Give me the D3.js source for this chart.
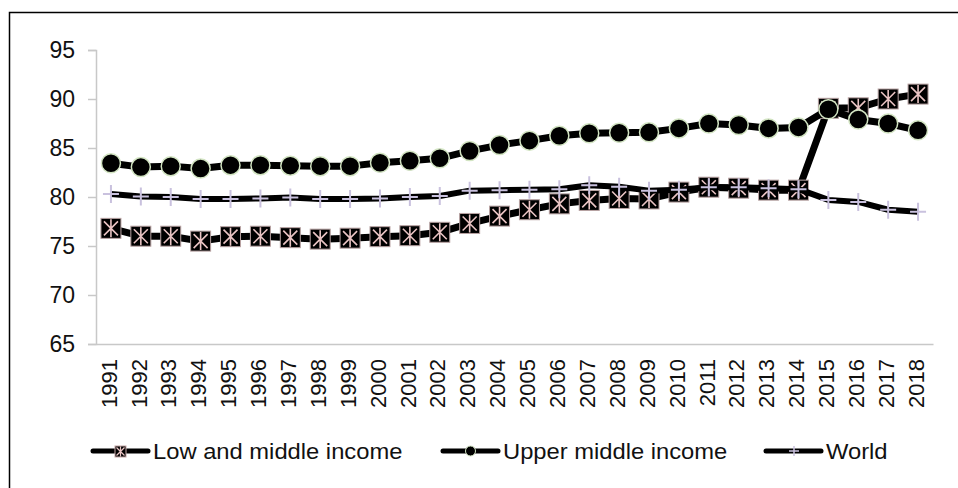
<!DOCTYPE html>
<html>
<head>
<meta charset="utf-8">
<script src="https://cdn.jsdelivr.net/npm/d3@7"></script>
<style>
  body { margin: 0; background: #fff; }
  text { font-family: "Liberation Sans", Arial, sans-serif; fill: #111; }
</style>
</head>
<body>
<div class="chart"></div>
<script>
var years = [1991, 1992, 1993, 1994, 1995, 1996, 1997, 1998, 1999, 2000,
    2001, 2002, 2003, 2004, 2005, 2006, 2007, 2008, 2009, 2010,
    2011, 2012, 2013, 2014, 2015, 2016, 2017, 2018];

var lowMiddle = [76.8, 76.0, 76.0, 75.5, 75.95, 76.0, 75.85, 75.7, 75.8, 75.95,
    76.05, 76.4, 77.3, 78.05, 78.7, 79.3, 79.65, 79.85, 79.8, 80.5,
    81.0, 80.9, 80.7, 80.7, 89.05, 89.1, 90.0, 90.5];

var upperMiddle = [83.45, 83.05, 83.15, 82.9, 83.25, 83.25, 83.2, 83.15, 83.15, 83.5,
    83.7, 83.95, 84.7, 85.3, 85.75, 86.25, 86.5, 86.55, 86.6, 87.0,
    87.5, 87.35, 87.0, 87.1, 88.95, 87.9, 87.5, 86.8];

var world = [80.3, 80.05, 80.0, 79.8, 79.8, 79.85, 79.95, 79.8, 79.8, 79.85,
    80.0, 80.1, 80.65, 80.7, 80.75, 80.8, 81.2, 81.05, 80.65, 80.75,
    81.0, 81.0, 80.9, 80.8, 79.7, 79.5, 78.7, 78.5];

var seriesNames = ["Low and middle income", "Upper middle income", "World"];
var yTicks = [65, 70, 75, 80, 85, 90, 95];

var width = 958, height = 488;

var svg = d3.select(".chart")
    .append("svg")
    .attr("width", width)
    .attr("height", height);

// outer frame (runs off the right / bottom edge like the original)
svg.append("rect")
    .attr("x", 9.5)
    .attr("y", 12.5)
    .attr("width", 960)
    .attr("height", 490)
    .attr("fill", "none")
    .attr("stroke", "#000")
    .attr("stroke-width", 1.5);

var x = d3.scaleBand()
    .domain(years)
    .range([96, 933]);

var y = d3.scaleLinear()
    .domain([65, 95])
    .range([344, 50]);

function cx(d, i) { return x(years[i]) + x.bandwidth() / 2; }

// y axis
var yAxis = svg.append("g")
    .attr("transform", "translate(96,0)")
    .call(d3.axisLeft(y).tickValues(yTicks).tickSize(8).tickPadding(13));
yAxis.select(".domain").attr("stroke", "#c8c8c8").attr("stroke-width", 1.5);
yAxis.selectAll(".tick line").attr("stroke", "#c8c8c8").attr("stroke-width", 1.5);
yAxis.selectAll(".tick text")
    .attr("font-size", 23)
    .attr("font-family", "Liberation Sans, Arial, sans-serif")
    .attr("fill", "#1a1a1a");

// x axis
var xAxis = svg.append("g")
    .attr("transform", "translate(0,344)")
    .call(d3.axisBottom(x).tickSize(0).tickPadding(0));
xAxis.select(".domain").attr("stroke", "#c8c8c8").attr("stroke-width", 1.5);
xAxis.selectAll(".tick text")
    .attr("font-size", 22)
    .attr("font-family", "Liberation Sans, Arial, sans-serif")
    .attr("fill", "#1a1a1a")
    .attr("text-anchor", "end")
    .attr("dy", "0.35em")
    .attr("transform", "translate(-2,15) rotate(-90)");

var line = d3.line()
    .x(cx)
    .y(function (d) { return y(d); });

var starPath = "M-7,-7L7,7M7,-7L-7,7M0,-9L0,9";

function drawSquares(g, data, s) {
    var m = g.selectAll(".sq").data(data).enter().append("g")
        .attr("transform", function (d, i) { return "translate(" + cx(d, i) + "," + y(d) + ")"; });
    m.append("rect")
        .attr("x", -s / 2).attr("y", -s / 2)
        .attr("width", s).attr("height", s)
        .attr("fill", "#000")
        .attr("stroke", "#b9a3a3")
        .attr("stroke-width", 1);
    m.append("path")
        .attr("d", starPath)
        .attr("stroke", "#e9c3c3")
        .attr("stroke-width", 1.6);
}

// Low and middle income
var g1 = svg.append("g");
g1.append("path").datum(lowMiddle)
    .attr("d", line)
    .attr("fill", "none")
    .attr("stroke", "#000")
    .attr("stroke-width", 7)
    .attr("stroke-linejoin", "round");
drawSquares(g1, lowMiddle, 20);

// Upper middle income
var g2 = svg.append("g");
g2.append("path").datum(upperMiddle)
    .attr("d", line)
    .attr("fill", "none")
    .attr("stroke", "#000")
    .attr("stroke-width", 7)
    .attr("stroke-linejoin", "round");
g2.selectAll("circle").data(upperMiddle).enter().append("circle")
    .attr("cx", cx)
    .attr("cy", function (d) { return y(d); })
    .attr("r", 9.5)
    .attr("fill", "#000")
    .attr("stroke", "#d2e4c2")
    .attr("stroke-width", 1.5);

// World
var g3 = svg.append("g");
g3.append("path").datum(world)
    .attr("d", line)
    .attr("fill", "none")
    .attr("stroke", "#000")
    .attr("stroke-width", 6)
    .attr("stroke-linejoin", "round");
g3.selectAll(".plus").data(world).enter().append("path")
    .attr("transform", function (d, i) { return "translate(" + cx(d, i) + "," + y(d) + ")"; })
    .attr("d", "M-8,0L8,0M0,-9L0,9")
    .attr("stroke", "#c9c1de")
    .attr("stroke-width", 2);

// legend
var legendX = [93, 443, 766];
var legendY = 451;
var leg = svg.append("g").attr("class", "legend");
seriesNames.forEach(function (name, i) {
    var lg = leg.append("g").attr("transform", "translate(" + legendX[i] + "," + legendY + ")");
    lg.append("line")
        .attr("x1", 0).attr("x2", 55)
        .attr("y1", 0).attr("y2", 0)
        .attr("stroke", "#000")
        .attr("stroke-width", 5)
        .attr("stroke-linecap", "round");
    if (i == 0) {
        lg.append("rect")
            .attr("x", 22).attr("y", -5).attr("width", 11).attr("height", 11)
            .attr("fill", "#000").attr("stroke", "#c4a6a6").attr("stroke-width", 1);
        lg.append("path")
            .attr("transform", "translate(27.5,0.5)")
            .attr("d", "M-4,-4L4,4M4,-4L-4,4M0,-5L0,5")
            .attr("stroke", "#e9c3c3").attr("stroke-width", 1.2);
    } else if (i == 1) {
        lg.append("circle")
            .attr("cx", 27.5).attr("cy", 0).attr("r", 5)
            .attr("fill", "#000").attr("stroke", "#d2e4c2").attr("stroke-width", 1);
    } else {
        lg.append("path")
            .attr("transform", "translate(28,0)")
            .attr("d", "M-5,0L5,0M0,-5L0,5")
            .attr("stroke", "#c9c1de").attr("stroke-width", 1.5);
    }
    lg.append("text")
        .attr("transform", "translate(60,0) scale(1.08,1)")
        .attr("dy", "0.35em")
        .attr("font-size", 22)
        .attr("fill", "#1a1a1a")
        .text(name);
});
</script>
</body>
</html>
